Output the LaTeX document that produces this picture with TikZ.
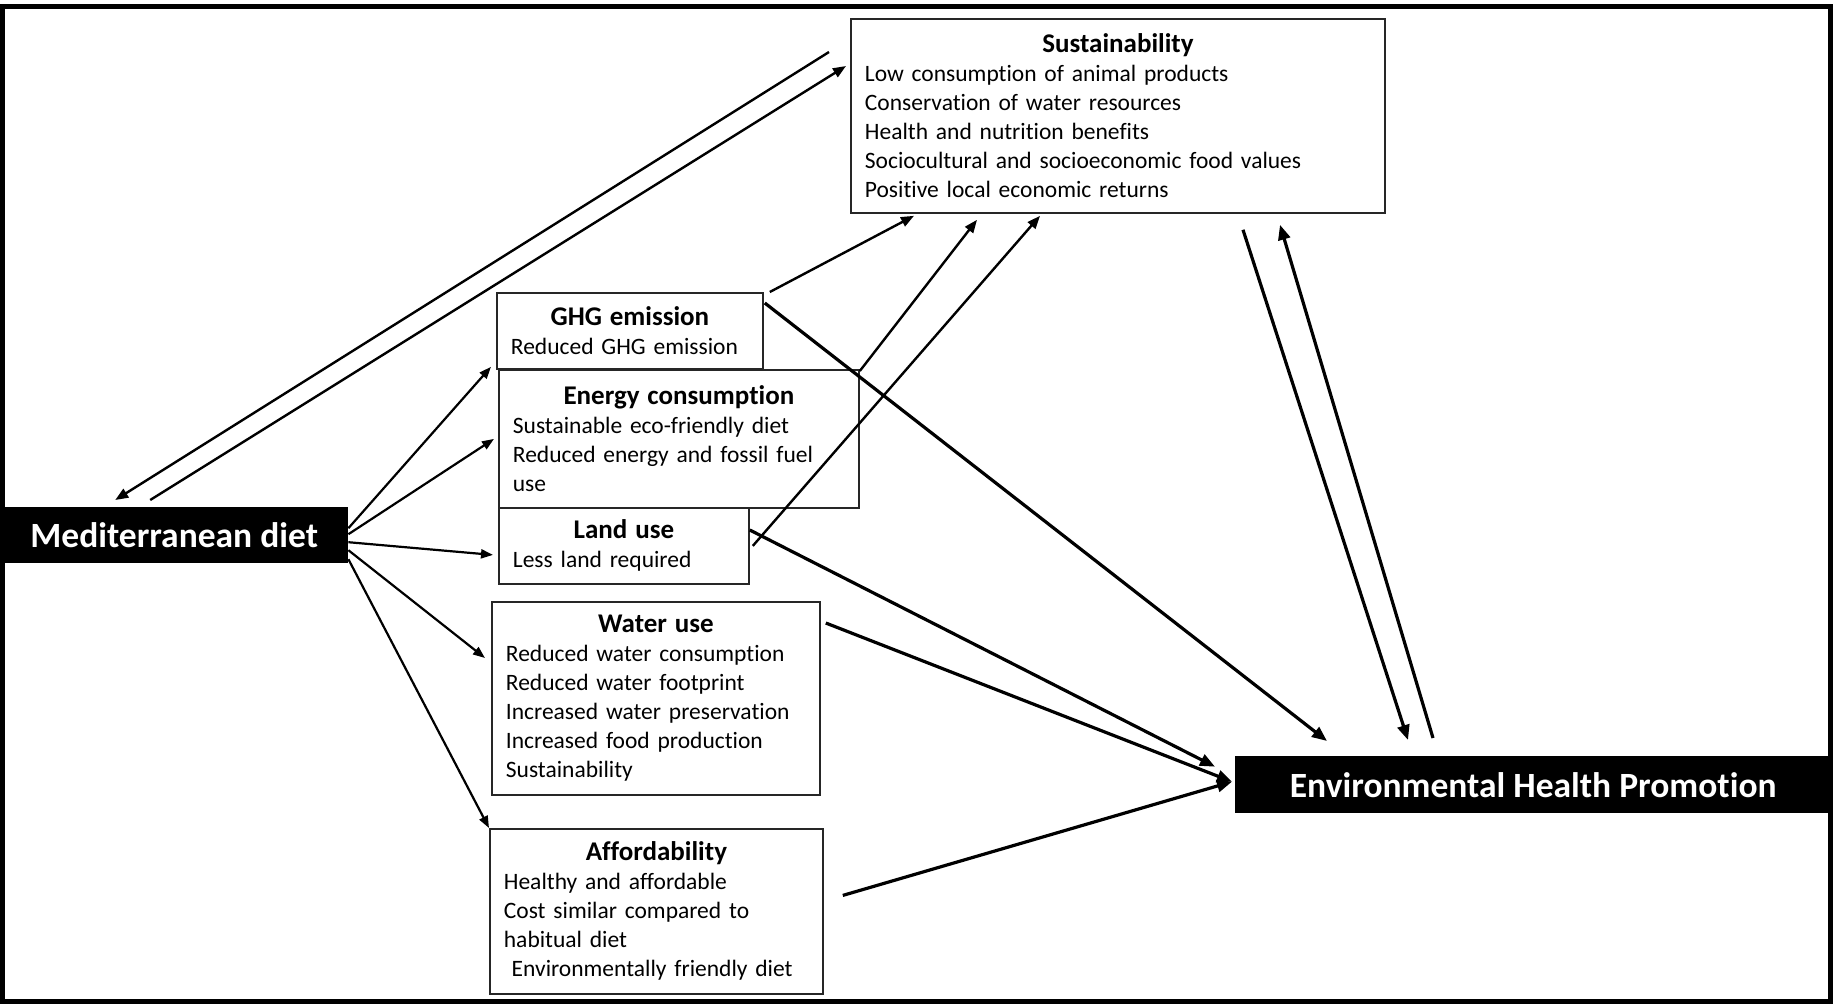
\documentclass[tikz,border=0pt]{standalone}
\usepackage{fontspec}
\setmainfont{Carlito}[Ligatures=NoCommon]
\usetikzlibrary{calc}
\usetikzlibrary{arrows.meta}

\tikzset{
    infobox/.style={draw=black!85, line width=1.8pt, anchor=north west, align=left,
        inner xsep=14pt, font=\fontsize{23.5}{29}\selectfont},
    blackbox/.style={fill=black, anchor=north west, text=white, inner sep=0pt,
        font=\fontsize{35.5}{40}\selectfont\bfseries},
    thinarrow/.style={-{Triangle[length=12pt,width=9pt]}, line width=2.2pt},
    midarrow/.style={-{Triangle[length=13pt,width=10pt]}, line width=2.4pt},
    thickarrow/.style={-{Triangle[length=15pt,width=12pt]}, line width=3.2pt},
}
\newcommand{\boxhead}[1]{\hbox to \hsize{\hfil\fontsize{27}{29}\selectfont\bfseries #1\hfil}\\}

\begin{document}
\begin{tikzpicture}[x=1pt, y=-1pt]
    \useasboundingbox (0,0) rectangle (1839,1005);
    % Frame
    \draw[line width=4.5pt] (2.5,6.5) rectangle (1830.5,1001.5);

    % Black end boxes
    \node[blackbox, minimum width=348pt, minimum height=56pt] (md) at (0,507) {Mediterranean diet};
    \node[blackbox, minimum width=596pt, minimum height=57pt] (ehp) at (1235,756) {Environmental Health Promotion};

    % Sustainability box
    \node[infobox, minimum width=534pt, text width=506pt, minimum height=194pt] (sust) at (850,18) {%
        \boxhead{Sustainability}
        Low consumption of animal products\\
        Conservation of water resources\\
        Health and nutrition benefits\\
        Sociocultural and socioeconomic food values\\
        Positive local economic returns};

    % Middle column
    \node[infobox, minimum width=266pt, text width=238pt, minimum height=76pt] (ghg) at (496,292) {%
        \boxhead{GHG emission}
        Reduced GHG emission};
    \node[infobox, minimum width=360pt, text width=332pt, minimum height=138pt] (energy) at (498,369) {%
        \boxhead{Energy consumption}
        Sustainable eco-friendly diet\\
        Reduced energy and fossil fuel\\
        use};
    \node[infobox, minimum width=250pt, text width=222pt, minimum height=76pt] (land) at (498,507) {%
        \boxhead{Land use}
        Less land required};
    \node[infobox, minimum width=328pt, text width=300pt, minimum height=193pt] (water) at (491,601) {%
        \boxhead{Water use}
        Reduced water consumption\\
        Reduced water footprint\\
        Increased water preservation\\
        Increased food production\\
        Sustainability};
    \node[infobox, minimum width=333pt, text width=305pt, minimum height=165pt] (afford) at (489,828) {%
        \boxhead{Affordability}
        Healthy and affordable\\
        Cost similar compared to\\
        habitual diet\\
        \ Environmentally friendly diet};

    % Mediterranean diet <-> Sustainability
    \draw[midarrow] ($(md.north)+(-24,-7)$) -- ($(sust.north west)+(-4,48)$);
    \draw[midarrow] ($(sust.north west)+(-21,34)$) -- ($(md.north)+(-59,-7)$);

    % Mediterranean diet to the middle column
    \draw[thinarrow] ($(md.east)+(0,-7)$) -- ($(ghg.south west)+(-5,-3)$);
    \draw[thinarrow] ($(md.east)+(0,-1)$) -- ($(energy.west)+(-4,0)$);
    \draw[thinarrow] ($(md.east)+(0,7)$) -- ($(land.west)+(-5,9)$);
    \draw[thinarrow] ($(md.east)+(0,15)$) -- ($(water.north west)+(-6,57)$);
    \draw[thinarrow] ($(md.east)+(0,24)$) -- (afford.north west);

    % Middle column to Sustainability
    \draw[midarrow] ($(ghg.north east)+(6,0)$) -- ($(sust.south west)+(64,2)$);
    \draw[midarrow] ($(energy.north east)+(0,2)$) -- ($(sust.south west)+(127,6)$);
    \draw[midarrow] ($(land.east)+(3,0)$) -- ($(sust.south west)+(190,2)$);

    % Middle column to Environmental Health Promotion
    \draw[thickarrow] ($(ghg.north east)+(1,11)$) -- ($(ehp.north west)+(92,-15)$);
    \draw[thickarrow] ($(land.north east)+(0,23)$) -- ($(ehp.west)+(-20,-18)$);
    \draw[thickarrow] ($(water.north east)+(5,22)$) -- ($(ehp.west)+(-3,-3)$);
    \draw[thickarrow] ($(afford.east)+(19,-16)$) -- ($(ehp.west)+(-3,-3)$);

    % Sustainability <-> Environmental Health Promotion
    \draw[thickarrow] ($(sust.south west)+(393,16)$) -- ($(ehp.north west)+(173,-16)$);
    \draw[thickarrow] ($(ehp.north west)+(198,-18)$) -- ($(sust.south west)+(430,11)$);
\end{tikzpicture}
\end{document}
